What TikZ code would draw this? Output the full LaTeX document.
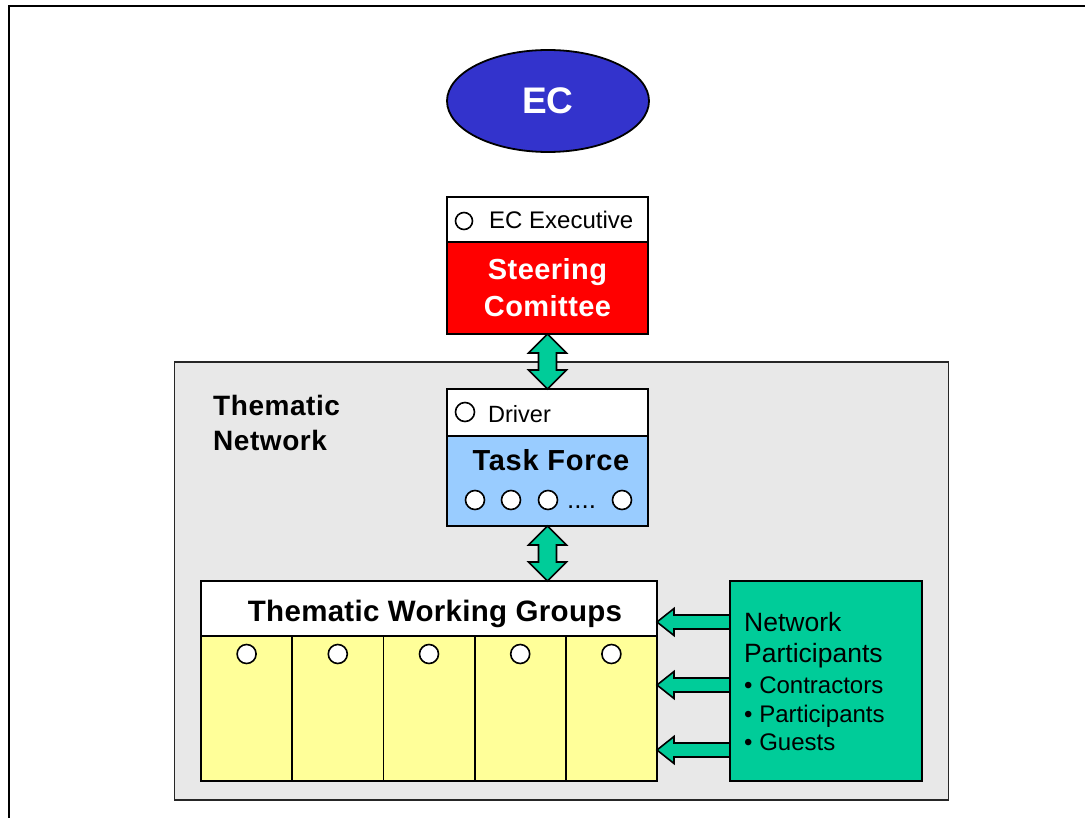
\documentclass[tikz,border=0pt]{standalone}
\usepackage{fontspec}
\setmainfont{Liberation Sans}
\usetikzlibrary{shapes.geometric,calc}
\definecolor{ecblue}{RGB}{51,51,204}
\definecolor{scred}{RGB}{255,0,0}
\definecolor{tfblue}{RGB}{153,204,255}
\definecolor{wgyellow}{RGB}{255,255,153}
\definecolor{npgreen}{RGB}{0,204,153}
\definecolor{netgrey}{RGB}{232,232,232}
\newcommand{\fsz}[2]{\fontsize{#1}{#2}\selectfont}
\begin{document}
\begin{tikzpicture}[x=1pt,y=-1pt,
  box/.style={draw=black, line width=1.8pt, inner sep=0pt, outer sep=0pt, rectangle},
  hole/.style={circle, draw=black, line width=1.6pt, fill=white, minimum size=19pt, inner sep=0pt},
  blockarrow/.style={draw=black, line width=1.6pt, fill=npgreen, line join=miter},
  lbl/.style={anchor=base west, inner sep=0pt},
  ctr/.style={anchor=base, inner sep=0pt}]
\useasboundingbox (0,0) rectangle (1085,818);
\draw[line width=2pt] (9,818) -- (9,6) -- (1085,6);

% EC
\node[ellipse, draw=black, line width=1.8pt, fill=ecblue, minimum width=202pt, minimum height=102pt,
      inner sep=0pt, text=white, font=\fsz{37}{40}\bfseries] (ec) at (548,101) {EC};

% Thematic network background
\node[box, draw=black!85, fill=netgrey, minimum width=774pt, minimum height=438pt] (net) at (561.5,581) {};
\node[lbl, font=\fsz{28}{32}\bfseries\addfontfeature{LetterSpace=2}] (tn1) at (213,415) {Thematic};
\node[lbl, font=\fsz{28}{32}\bfseries\addfontfeature{LetterSpace=2}] (tn2) at (213,450) {Network};

% Steering committee
\node[box, fill=white, minimum width=201pt, minimum height=46pt] (exec) at (547.5,220) {};
\node[hole, minimum size=17pt] (h0) at (464,221) {};
\node[lbl, font=\fsz{24}{28}] (exectext) at (489,229) {EC Executive};
\node[box, fill=scred, minimum width=201pt, minimum height=92pt, text=white, align=center,
      font=\fsz{29}{37}\bfseries\addfontfeature{LetterSpace=1.5}] (steer) at (547.5,288) {Steering\\Comittee};

% Task force
\node[box, fill=white, minimum width=201pt, minimum height=47pt] (drv) at (547.5,412.5) {};
\node[hole] (hd) at (465,412) {};
\node[lbl, font=\fsz{23.5}{27}] (drvtext) at (488,422) {Driver};
\node[box, fill=tfblue, minimum width=201pt, minimum height=90pt] (tf) at (547.5,481) {};
\node[ctr, font=\fsz{29}{32}\bfseries\addfontfeature{LetterSpace=2.5}] (tftext) at (551,470) {Task Force};
\foreach \x [count=\i] in {475,511,548,622} \node[hole] (tfh\i) at (\x,500) {};
\node[lbl, font=\fsz{26}{28}] (tfdots) at (567,508) {....};

% Thematic working groups
\node[box, fill=white, minimum width=456pt, minimum height=55pt] (twg) at (429,608.5) {};
\node[ctr, font=\fsz{29.5}{32}\bfseries\addfontfeature{LetterSpace=1}] (twgtext) at (435,621) {Thematic Working Groups};
\foreach \i in {0,...,4} {
  \node[box, fill=wgyellow, minimum width=91.2pt, minimum height=145pt] (col\i) at (246.6+91.2*\i,708.5) {};
  \node[hole] (colh\i) at (246.6+91.2*\i,654) {};
}

% Network participants
\node[box, fill=npgreen, minimum width=192pt, minimum height=200pt] (np) at (826,681) {};
\node[lbl, font=\fsz{26.5}{31}] (np1) at (744,631) {Network};
\node[lbl, font=\fsz{26.5}{31}] (np2) at (744,662) {Participants};
\node[lbl, font=\fsz{24}{29}] (np3) at (744,693) {• Contractors};
\node[lbl, font=\fsz{24}{29}] (np4) at (744,722) {• Participants};
\node[lbl, font=\fsz{24}{29}] (np5) at (744,750) {• Guests};

% vertical double arrows
\draw[blockarrow] (steer.south) -- ++(19,19) -- ++(-10,0) -- ($(drv.north)+(9,-19)$) -- ++(10,0)
  -- (drv.north) -- ++(-19,-19) -- ++(10,0) -- ($(steer.south)+(-9,19)$) -- ++(-10,0) -- cycle;
\coordinate (twgtop) at (tf.south |- twg.north);
\draw[blockarrow] (tf.south) -- ++(19,19) -- ++(-10,0) -- ($(twgtop)+(9,-19)$) -- ++(10,0)
  -- (twgtop) -- ++(-19,-19) -- ++(10,0) -- ($(tf.south)+(-9,19)$) -- ++(-10,0) -- cycle;

% horizontal arrows
\coordinate (ya) at (0,622);
\coordinate (yb) at (0,685);
\coordinate (yc) at (0,750);
\foreach \yy/\t in {ya/twg,yb/col4,yc/col4}
  \draw[blockarrow] (\t.east |- \yy) -- ++(17,-13.5) -- ++(0,6.5) -- ($(np.west |- \yy)+(0,-7)$)
    -- ++(0,14) -- ($(\t.east |- \yy)+(17,7)$) -- ++(0,6.5) -- cycle;
\end{tikzpicture}
\end{document}
